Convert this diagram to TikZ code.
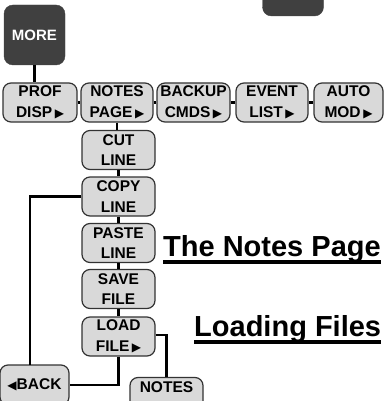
\documentclass[tikz,border=0pt]{standalone}
\usepackage{fontspec}
\setmainfont{Liberation Sans}
\newfontfamily\symfont{DejaVu Sans}
\usetikzlibrary{positioning}
\newcommand{\rtri}{\,{\symfont\fontsize{12}{12}\selectfont ▶}}
\newcommand{\ltri}{{\symfont\fontsize{12}{12}\selectfont ◀}}
\tikzset{
  key/.style={draw=black!80,line width=1.2pt,fill=black!15,rounded corners=8pt,
    minimum width=73pt,minimum height=39pt,inner sep=0pt,align=center,
    font=\bfseries\fontsize{15.5}{20.5}\selectfont},
  darkkey/.style={draw=black!75,fill=black!75,rounded corners=9pt,
    minimum width=61pt,minimum height=60pt,inner sep=0pt,text=white,
    font=\bfseries\fontsize{15}{16}\selectfont},
  wire/.style={line width=2.6pt},
  title/.style={anchor=base west,inner sep=0pt,font=\bfseries\fontsize{29}{30}\selectfont}
}
\begin{document}
\begin{tikzpicture}[line cap=butt,line join=miter,x=1pt,y=-1pt]
\useasboundingbox (0,0) rectangle (386,401);
\clip (0,0) rectangle (386,401);
% soft keys
\node[darkkey,minimum height=40pt] (top) at (293,-4) {};
\node[darkkey] (more) at (34.5,35) {MORE};
\node[key,minimum width=74pt] (prof) at (40,102.5) {PROF\\DISP\rtri};
\node[key,minimum width=72pt] (notes) at (117,102.5) {NOTES\\PAGE\rtri};
\node[key] (backup) at (193.5,102.5) {BACKUP\\CMDS\rtri};
\node[key,minimum width=72pt] (event) at (272,102.5) {EVENT\\LIST\rtri};
\node[key,minimum width=69pt] (auto) at (348.5,102.5) {AUTO\\MOD\rtri};
% notes page menu
\node[key] (cut) at (118.5,150) {CUT\\LINE};
\node[key] (copy) at (118.5,196.5) {COPY\\LINE};
\node[key] (paste) at (118.5,243) {PASTE\\LINE};
\node[key] (save) at (118.5,289) {SAVE\\FILE};
\node[key] (load) at (118.5,336.5) {LOAD\\FILE\rtri};
\node[key,minimum width=69pt,minimum height=40pt] (back) at (34.5,385) {\ltri BACK};
\node[key] (pages) at (166.5,397) {NOTES\\PAGES};
% connectors
\draw[wire] (more.south) -- (more.south |- prof.north);
\draw[wire] (prof.east) -- (notes.west);
\draw[wire] (notes.east) -- (backup.west);
\draw[wire] (backup.east) -- (event.west);
\draw[wire] (event.east) -- (auto.west);
\draw[wire] (notes.south) -- (notes.south |- cut.north);
\draw[wire] (cut) -- (copy);
\draw[wire] (copy) -- (paste);
\draw[wire] (paste) -- (save);
\draw[wire] (save) -- (load);
\coordinate (bk) at (30,365);
\draw[wire] (copy.west) -| (bk);
\draw[wire] (load.south) |- (back.east);
\draw[wire] ([yshift=1.5pt]load.east) -| (pages.north);
% headings
\node[title] (h1) at (163,256) {The Notes Page};
\node[title] (h2) at (194,336) {Loading Files};
\draw[line width=4pt] ([yshift=-6pt]h1.base west) -- ([yshift=-6pt]h1.base east);
\draw[line width=4pt] ([yshift=-6pt]h2.base west) -- ([yshift=-6pt]h2.base east);
\end{tikzpicture}
\end{document}
